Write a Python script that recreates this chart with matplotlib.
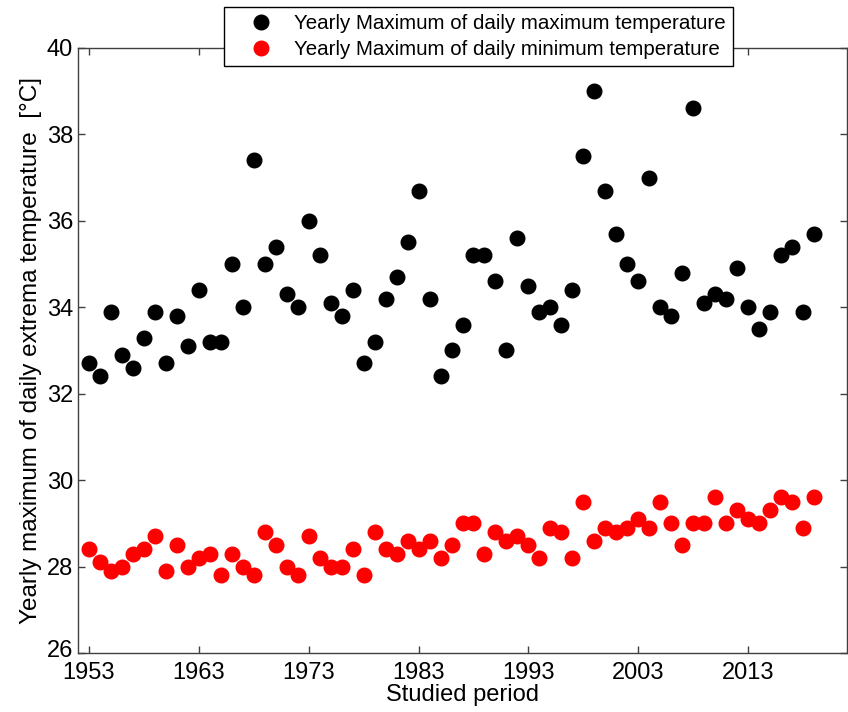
import matplotlib
matplotlib.use("Agg")
import matplotlib.pyplot as plt
import matplotlib.transforms as mtransforms
import numpy as np

plt.rcParams['font.family'] = ['Liberation Sans', 'DejaVu Sans']

years = list(range(1953, 2020))
tmax = [32.7, 32.4, 33.9, 32.9, 32.6, 33.3, 33.9, 32.7, 33.8, 33.1,
        34.4, 33.2, 33.2, 35.0, 34.0, 37.4, 35.0, 35.4, 34.3, 34.0,
        36.0, 35.2, 34.1, 33.8, 34.4, 32.7, 33.2, 34.2, 34.7, 35.5,
        36.7, 34.2, 32.4, 33.0, 33.6, 35.2, 35.2, 34.6, 33.0, 35.6,
        34.5, 33.9, 34.0, 33.6, 34.4, 37.5, 39.0, 36.7, 35.7, 35.0,
        34.6, 37.0, 34.0, 33.8, 34.8, 38.6, 34.1, 34.3, 34.2, 34.9,
        34.0, 33.5, 33.9, 35.2, 35.4, 33.9, 35.7]
tmin = [28.4, 28.1, 27.9, 28.0, 28.3, 28.4, 28.7, 27.9, 28.5, 28.0,
        28.2, 28.3, 27.8, 28.3, 28.0, 27.8, 28.8, 28.5, 28.0, 27.8,
        28.7, 28.2, 28.0, 28.0, 28.4, 27.8, 28.8, 28.4, 28.3, 28.6,
        28.4, 28.6, 28.2, 28.5, 29.0, 29.0, 28.3, 28.8, 28.6, 28.7,
        28.5, 28.2, 28.9, 28.8, 28.2, 29.5, 28.6, 28.9, 28.8, 28.9,
        29.1, 28.9, 29.5, 29.0, 28.5, 29.0, 29.0, 29.6, 29.0, 29.3,
        29.1, 29.0, 29.3, 29.6, 29.5, 28.9, 29.6]
xticks = [1953, 1963, 1973, 1983, 1993, 2003, 2013]
yticks = [26, 28, 30, 32, 34, 36, 38, 40]
labels = ['Yearly Maximum of daily maximum temperature',
          'Yearly Maximum of daily minimum temperature']

fig = plt.figure(figsize=(8.48, 7.12), dpi=100)
ax = fig.add_axes([78/848, 1-653/712, (847-78)/848, (653-48)/712])

ax.plot(years, tmax, 'o', color='black', markersize=10.5, linestyle='none', label=labels[0])
ax.plot(years, tmin, 'o', color='#ff0000', markersize=10.5, linestyle='none', label=labels[1])

ax.set_xlim(1952, 2022)
ax.set_ylim(26, 40)
ax.set_xticks(xticks)
ax.set_yticks(yticks)
ax.tick_params(direction='in', top=True, right=True, length=5, width=1,
               color='#404040', labelsize=17)
ax.tick_params(axis='x', pad=6.5)
ax.tick_params(axis='y', pad=3.5)
for sp in ax.spines.values():
    sp.set_color('#404040')
    sp.set_linewidth(1)

# nudge the lowest y tick label up a little so it does not collide with "1953"
lbl26 = ax.get_yticklabels()[0]
lbl26.set_transform(lbl26.get_transform() +
                    mtransforms.ScaledTranslation(0, 4/100, fig.dpi_scale_trans))

ax.set_xlabel('Studied period', fontsize=17, labelpad=0)
ax.set_ylabel('Yearly maximum of daily extrema temperature  [°C]', fontsize=17.5, labelpad=3.5)

leg = fig.legend(loc='upper left', bbox_to_anchor=(224/848, 1-7/712), fontsize=14.8,
                 frameon=True, fancybox=False, edgecolor='black', framealpha=1,
                 borderpad=0.35, labelspacing=0.32, handletextpad=0.15,
                 handlelength=2.9, borderaxespad=0)
leg.get_frame().set_linewidth(1)
leg.set_zorder(10)

fig.savefig('out.png', dpi=100)
